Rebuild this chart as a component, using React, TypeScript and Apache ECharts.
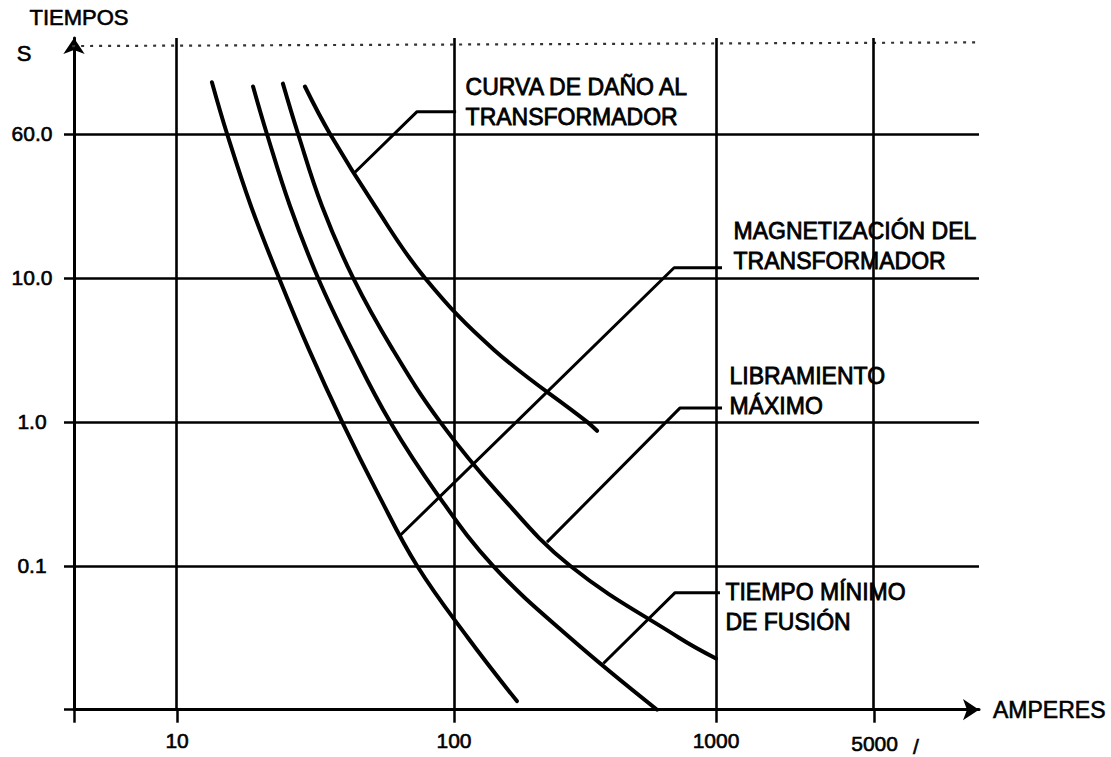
import React, { useEffect, useRef } from 'react';
import * as echarts from 'echarts';

// Positions are in "decade" units as drawn on the sketch (x: log10 of amperes, y: log of seconds).
const xTickPositions = [0.943, 2, 3, 3.603];
const xTickLabels = ['10', '100', '1000', '5000'];
const yTickPositions = [-1, 0, 1, 2];
const yTickLabels = ['0.1', '1.0', '10.0', '60.0'];
const yUnitPosition = 2.556;
const yUnitLabel = 'S';
const xAxisName = 'AMPERES';
const yAxisName = 'TIEMPOS';

const X_MIN = 0.5496;
const X_MAX = 4.0038;
const Y_MIN = -2;
const Y_MAX = 2.667;

// Characteristic curves (left to right)
const curveA = [[1.076, 2.36], [1.134, 2.0], [1.225, 1.5], [1.332, 1.0], [1.447, 0.5], [1.573, 0], [1.71, -0.5], [1.859, -1.0], [2.053, -1.5], [2.24, -1.94]];
const curveB = [[1.233, 2.33], [1.286, 2.0], [1.374, 1.5], [1.481, 1.0], [1.611, 0.5], [1.756, 0], [1.935, -0.5], [2.149, -1.0], [2.443, -1.5], [2.775, -2.0]];
const curveC = [[1.347, 2.35], [1.405, 2.0], [1.496, 1.5], [1.615, 1.0], [1.767, 0.5], [1.947, 0], [2.172, -0.5], [2.443, -1.0], [2.859, -1.5], [3.0, -1.644]];
const curveD = [[1.431, 2.33], [1.527, 2.0], [1.698, 1.5], [1.889, 1.0], [2.153, 0.5], [2.508, 0], [2.546, -0.062]];

// Callout leaders and their texts
const leaderDano = [[1.622, 1.734], [1.859, 2.155], [2.008, 2.155]];
const leaderMagnet = [[1.794, -0.79], [2.84, 1.071], [3.023, 1.071]];
const leaderLibra = [[2.355, -0.836], [2.863, 0.097], [3.023, 0.097]];
const leaderFusion = [[2.57, -1.679], [2.843, -1.188], [3.015, -1.188]];
const textDano = 'CURVA DE DAÑO AL\nTRANSFORMADOR';
const textMagnet = 'MAGNETIZACIÓN DEL\nTRANSFORMADOR';
const textLibra = 'LIBRAMIENTO\nMÁXIMO';
const textFusion = 'TIEMPO MÍNIMO\nDE FUSIÓN';

// Faint dotted line along the top of the sheet
const topDotted = [[0.405, 2.61], [4.485, 2.64]];

const FONT = "'Liberation Sans', Arial, Helvetica, sans-serif";

function lookup(v: number, pos: number[], labels: string[]) {
  for (let i = 0; i < pos.length; i++) if (Math.abs(pos[i] - v) < 1e-6) return labels[i];
  return '';
}

export default function App() {
  const ref = useRef<HTMLDivElement>(null);
  useEffect(() => {
    if (!ref.current) return;
    const chart = echarts.init(ref.current, null, { renderer: 'svg' });

    const curveSeries = (data: number[][]) => ({
      type: 'line',
      data,
      smooth: 0.4,
      symbol: 'none',
      z: 4,
      lineStyle: { color: '#000', width: 4, cap: 'round' },
    });

    const leaderSeries = (data: number[][], text: string, dist: number, dy: number) => ({
      type: 'line',
      symbol: 'circle',
      symbolSize: 1,
      showSymbol: true,
      itemStyle: { color: 'rgba(0,0,0,0)' },
      z: 4,
      lineStyle: { color: '#000', width: 3 },
      data: data.map((p, i) =>
        i === data.length - 1
          ? {
              value: p,
              label: {
                show: true,
                position: 'right',
                distance: dist,
                offset: [0, dy],
                formatter: text,
                color: '#000',
                fontFamily: FONT,
                fontSize: 23,
                fontWeight: 'normal',
                lineHeight: 30,
                align: 'left',
                textBorderColor: '#000',
                textBorderWidth: 0.8,
              },
            }
          : p
      ),
    });

    const allYLabelPos = [...yTickPositions, yUnitPosition];
    const labelBase = { color: '#000', fontFamily: FONT, textBorderColor: '#000', textBorderWidth: 0.6 };

    chart.setOption({
      animation: false,
      backgroundColor: '#fff',
      grid: { left: 74, right: 132, top: 38, bottom: 43 },
      xAxis: {
        type: 'value',
        min: X_MIN,
        max: X_MAX,
        name: xAxisName,
        nameLocation: 'end',
        nameGap: 14,
        nameTextStyle: { ...labelBase, fontSize: 23 },
        axisLine: { show: true, onZero: false, symbol: ['none', 'arrow'], symbolSize: [16, 16], lineStyle: { color: '#000', width: 3 } },
        axisTick: { show: true, length: 13, customValues: [X_MIN, ...xTickPositions], lineStyle: { color: '#000', width: 2.5 } },
        axisLabel: {
          customValues: xTickPositions,
          margin: 20,
          ...labelBase,
          fontSize: 21,
          formatter: (v: number) => {
            const t = lookup(v, xTickPositions, xTickLabels);
            return t === '5000' ? '{a|' + t + '}{b|/}' : t;
          },
          rich: {
            a: { ...labelBase, fontSize: 21, padding: [0, 0, 0, 22] },
            b: { ...labelBase, fontSize: 21, padding: [6, 0, 0, 15] },
          },
        },
        splitLine: { show: false },
      },
      yAxis: {
        type: 'value',
        min: Y_MIN,
        max: Y_MAX,
        name: yAxisName,
        nameLocation: 'end',
        nameGap: 10,
        nameTextStyle: { ...labelBase, fontSize: 22, padding: [0, 0, 0, 10] },
        axisLine: { show: true, onZero: false, symbol: ['none', 'arrow'], symbolSize: [16, 16], lineStyle: { color: '#000', width: 3 } },
        axisTick: { show: true, length: 10, customValues: [Y_MIN, ...yTickPositions], lineStyle: { color: '#000', width: 2.5 } },
        axisLabel: {
          customValues: allYLabelPos,
          margin: 42,
          align: 'center',
          ...labelBase,
          fontSize: 21,
          formatter: (v: number) => {
            if (Math.abs(v - yUnitPosition) < 1e-6) return '{s|' + yUnitLabel + '}';
            return lookup(v, yTickPositions, yTickLabels);
          },
          rich: { s: { ...labelBase, fontSize: 22, padding: [0, 16, 0, 0] } },
        },
        splitLine: { show: false },
      },
      series: [
        {
          type: 'line',
          data: [],
          silent: true,
          markLine: {
            silent: true,
            symbol: 'none',
            label: { show: false },
            lineStyle: { color: '#000', width: 2.6, type: 'solid' },
            data: [
              ...yTickPositions.map((v) => ({ yAxis: v })),
              ...xTickPositions.map((v) => ({ xAxis: v })),
            ],
          },
        },
        {
          type: 'line',
          data: topDotted,
          clip: false,
          symbol: 'none',
          silent: true,
          lineStyle: { color: '#333', width: 2.2, type: [3, 6] },
        },
        curveSeries(curveA),
        curveSeries(curveB),
        curveSeries(curveC),
        curveSeries(curveD),
        leaderSeries(leaderDano, textDano, 9, -9.5),
        leaderSeries(leaderMagnet, textMagnet, 11, -22),
        leaderSeries(leaderLibra, textLibra, 7, -17),
        leaderSeries(leaderFusion, textFusion, 5, 14),
      ],
    });
    return () => chart.dispose();
  }, []);
  return <div ref={ref} style={{ position: 'fixed', left: 0, top: 0, width: 1111, height: 757 }} />;
}
